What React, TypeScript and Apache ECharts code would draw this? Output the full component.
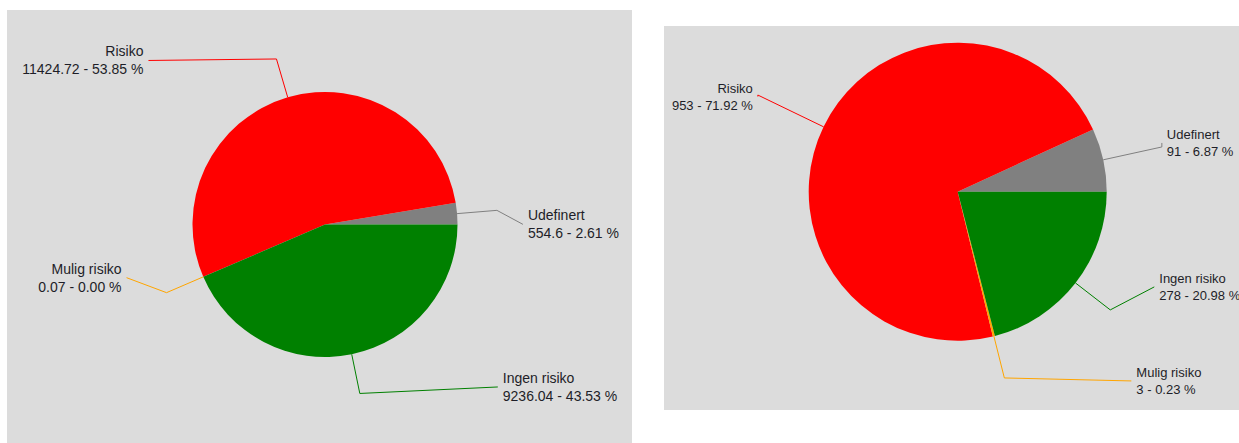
import React, { useEffect, useRef } from "react";
import * as echarts from "echarts";

// Slice order (counter-clockwise from 3 o'clock)
const categories = ["Udefinert", "Risiko", "Mulig risiko", "Ingen risiko"];
const leftValues = [554.6, 11424.72, 0.07, 9236.04];
const rightValues = [91, 953, 3, 278];

// Styling / layout (kept apart from the data)
const sliceColors = ["#808080", "#ff0000", "#ffa500", "#008000"];
// [labelLine length, labelLine length2, label vertical shift]
const leftGuides = [
  [40, 26, 14],
  [40, 128, 1.5],
  [40, 40, -15],
  [40, 138, -6.5],
];
const rightGuides = [
  [60, 0, -4],
  [73, 0, 1.5],
  [43, 127, 3],
  [44, 44, -23],
];

const FONT = "'Liberation Sans', Arial, Helvetica, sans-serif";

function buildSeries(
  values: number[],
  guides: number[][],
  center: [number, number],
  radius: number,
  fontSize: number,
  lineHeight: number
) {
  const total = values.reduce((a, b) => a + b, 0);
  return {
    type: "pie",
    left: 0,
    top: 0,
    width: 1239,
    height: 443,
    center,
    radius,
    startAngle: 0,
    clockwise: false,
    avoidLabelOverlap: false,
    silent: true,
    itemStyle: { borderWidth: 0 },
    label: {
      show: true,
      position: "outside",
      distanceToLabelLine: 5,
      fontFamily: FONT,
      fontSize,
      lineHeight,
      color: "#1e1e28",
      formatter: (p: any) =>
        `${p.name}\n${String(p.value)} - ${((p.value / total) * 100).toFixed(2)} %`,
    },
    labelLine: { show: true, smooth: false, lineStyle: { width: 1 } },
    labelLayout: (params: any) => {
      const pts = params.labelLinePoints;
      if (!pts || pts.length < 3) return {};
      const g = guides[params.dataIndex];
      const y = pts[1][1] + g[2];
      return {
        y,
        labelLinePoints: [pts[0], pts[1], [pts[2][0], y]],
      };
    },
    data: categories.map((name, i) => ({
      name,
      value: values[i],
      itemStyle: { color: sliceColors[i] },
      labelLine: { length: guides[i][0], length2: guides[i][1] },
    })),
  };
}

export default function App() {
  const ref = useRef<HTMLDivElement>(null);

  useEffect(() => {
    if (!ref.current) return;
    const chart = echarts.init(ref.current, undefined, { renderer: "svg" });
    chart.setOption({
      animation: false,
      backgroundColor: "#ffffff",
      graphic: {
        elements: [
          {
            type: "rect",
            silent: true,
            z: -10,
            shape: { x: 7, y: 10, width: 625, height: 433 },
            style: { fill: "#dcdcdc" },
          },
          {
            type: "rect",
            silent: true,
            z: -10,
            shape: { x: 664, y: 26, width: 575, height: 384 },
            style: { fill: "#dcdcdc" },
          },
        ],
      },
      series: [
        buildSeries(leftValues, leftGuides, [325, 224.5], 132.5, 14, 18),
        buildSeries(rightValues, rightGuides, [957.7, 191.7], 149, 13, 17),
      ],
    });
    return () => chart.dispose();
  }, []);

  return (
    <div
      ref={ref}
      style={{ position: "fixed", left: 0, top: 0, width: 1239, height: 443 }}
    />
  );
}
